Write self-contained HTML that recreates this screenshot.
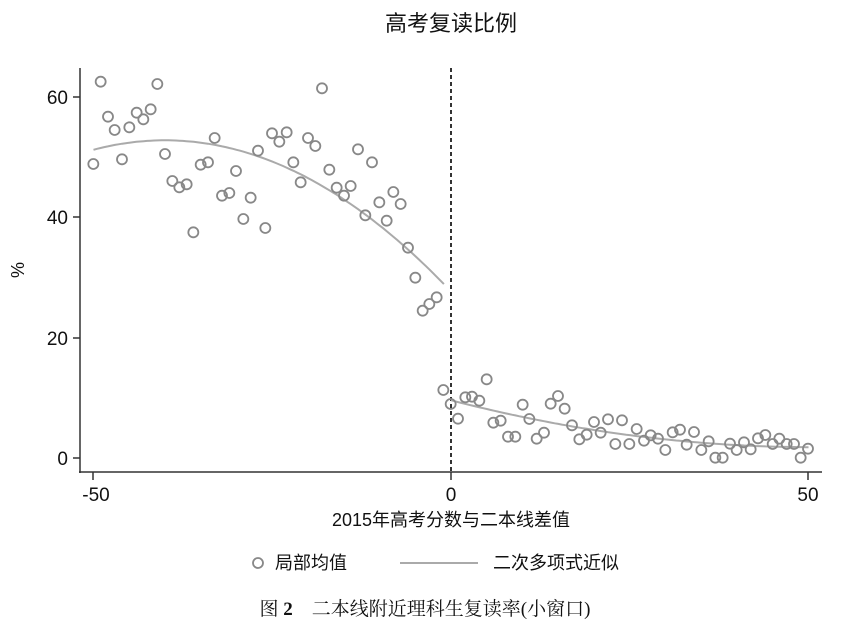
<!DOCTYPE html>
<html><head><meta charset="utf-8"><style>
body{margin:0;background:#fff;}
svg{display:block;font-family:"Liberation Sans","Noto Sans CJK SC",sans-serif;}
</style></head><body>
<svg id="s" width="851" height="642" viewBox="0 0 851 642" xmlns="http://www.w3.org/2000/svg">
<rect width="851" height="642" fill="#fff"/>
<text x="451" y="31" font-size="22" text-anchor="middle" fill="#111">高考复读比例</text>
<line x1="80" y1="68" x2="80" y2="473" stroke="#333" stroke-width="1.5"/>
<line x1="79" y1="472" x2="822" y2="472" stroke="#333" stroke-width="1.5"/>
<g stroke="#333" stroke-width="1.5">
<line x1="73" y1="458" x2="80" y2="458"/><line x1="73" y1="338" x2="80" y2="338"/><line x1="73" y1="217" x2="80" y2="217"/><line x1="73" y1="97" x2="80" y2="97"/>
<line x1="93" y1="472" x2="93" y2="480"/><line x1="451" y1="472" x2="451" y2="480"/><line x1="808" y1="472" x2="808" y2="480"/>
</g>
<g font-size="19" fill="#111" text-anchor="end">
<text x="68" y="465">0</text><text x="68" y="345">20</text><text x="68" y="224">40</text><text x="68" y="104">60</text>
</g>
<g font-size="19" fill="#111" text-anchor="middle">
<text x="96" y="501">-50</text><text x="451" y="501">0</text><text x="808" y="501">50</text>
</g>
<text x="24" y="270" font-size="18" fill="#111" text-anchor="middle" transform="rotate(-90 24 270)">%</text>
<text x="451" y="526" font-size="18" fill="#111" text-anchor="middle">2015年高考分数与二本线差值</text>
<line x1="451" y1="68" x2="451" y2="472" stroke="#333" stroke-width="2" stroke-dasharray="4,3"/>
<g id="fit" fill="none" stroke="#aaa" stroke-width="2"></g>
<g id="pts" fill="none" stroke="#888" stroke-width="1.8"></g>
<circle cx="258" cy="563" r="5" fill="none" stroke="#888" stroke-width="1.8"/>
<text x="275" y="569" font-size="18" fill="#111">局部均值</text>
<line x1="400" y1="563" x2="478" y2="563" stroke="#aaa" stroke-width="2"/>
<text x="493" y="569" font-size="18" fill="#111">二次多项式近似</text>
<text x="425" y="615" font-size="19" fill="#111" text-anchor="middle" font-family="'Liberation Serif','Noto Serif CJK SC',serif">图 <tspan font-weight="bold">2</tspan>　二本线附近理科生复读率(小窗口)</text>
</svg>
<script>
var ns="http://www.w3.org/2000/svg";
var L=[[40,312],[62,65],[84,170],[104,210],[126,298],[148,202],[170,158],[190,178],[212,148],[232,72],[255,282],[277,363],[298,382],[320,373],[340,517],[362,314],[384,307],[404,234],[426,407],[448,399],[468,333],[490,477],[512,413],[534,272],[556,504],[576,220],[598,245],[620,217],[640,307],[662,367],[684,234],[706,258],[726,85],[748,329],[770,383],[792,407],[812,378],[834,268],[856,466],[876,307],[898,427],[920,482],[940,396],[962,432],[984,563],[1006,653],[1028,752],[1048,732],[1070,712]];
var R=[[40,90],[62,132],[84,176],[106,112],[126,110],[148,122],[170,58],[190,188],[212,182],[234,230],[256,230],[278,134],[298,177],[320,236],[342,218],[362,131],[384,108],[404,146],[426,196],[448,238],[470,224],[492,186],[512,218],[534,178],[556,252],[576,181],[598,252],[620,207],[642,242],[662,226],[684,236],[706,270],[728,217],[750,209],[770,254],[792,216],[814,270],[836,244],[856,293],[878,293],[900,251],[920,270],[942,247],[962,268],[984,235],[1006,225],[1028,252],[1048,236],[1070,252],[1092,252],[1112,293],[1134,266]];
var g=document.getElementById("pts");
function c(x,y){var e=document.createElementNS(ns,"circle");e.setAttribute("cx",x);e.setAttribute("cy",y);e.setAttribute("r",5);g.appendChild(e);}
L.forEach(function(p){c(80+p[0]/3,60+p[1]/3);});
R.forEach(function(p){c(430+p[0]/3,360+p[1]/3);});
function X(v){return 451+v*7.15;}function Y(v){return 458-v*6.017;}
var f=document.getElementById("fit");
var d="";for(var x=-50;x<=-1;x+=0.5){var y=-0.01571*(x+40)*(x+40)+52.8;d+=(d?"L":"M")+X(x).toFixed(1)+","+Y(y).toFixed(1);}
var p=document.createElementNS(ns,"path");p.setAttribute("d",d);f.appendChild(p);
d="";for(var x=0;x<=50;x+=0.5){var y=9.6-0.308*x+0.00304*x*x;d+=(d?"L":"M")+X(x).toFixed(1)+","+Y(y).toFixed(1);}
p=document.createElementNS(ns,"path");p.setAttribute("d",d);f.appendChild(p);
</script>
</body></html>
